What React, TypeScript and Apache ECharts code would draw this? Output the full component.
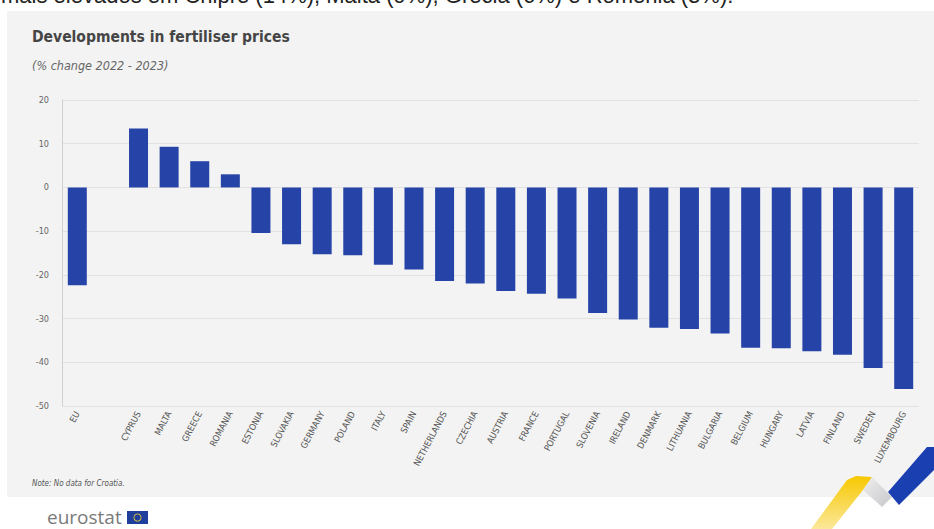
import React, { useEffect, useRef } from "react";
import * as echarts from "echarts";

const countries = [
  "EU", "", "CYPRUS", "MALTA", "GREECE", "ROMANIA", "ESTONIA", "SLOVAKIA", "GERMANY",
  "POLAND", "ITALY", "SPAIN", "NETHERLANDS", "CZECHIA", "AUSTRIA", "FRANCE", "PORTUGAL",
  "SLOVENIA", "IRELAND", "DENMARK", "LITHUANIA", "BULGARIA", "BELGIUM", "HUNGARY",
  "LATVIA", "FINLAND", "SWEDEN", "LUXEMBOURG",
];

const priceChange: (number | null)[] = [
  -22.4, null, 13.5, 9.3, 6.0, 3.0, -10.4, -13.0, -15.3,
  -15.5, -17.7, -18.8, -21.4, -22.0, -23.7, -24.3, -25.4,
  -28.7, -30.2, -32.1, -32.4, -33.4, -36.7, -36.8,
  -37.5, -38.3, -41.3, -46.1,
];

const yMin = -50;
const yMax = 20;
const yStep = 10;

const titleText = "Developments in fertiliser prices";
const subtitleText = "(% change 2022 - 2023)";
const noteText = "Note: No data for Croatia.";
const topLineText = "mais elevados em Chipre (14%), Malta (9%), Grécia (6%) e Roménia (3%).";
const logoText = "eurostat";

const NARROW = "'Liberation Sans Narrow', 'DejaVu Sans Condensed', 'Roboto Condensed', sans-serif";

export default function App() {
  const ref = useRef<HTMLDivElement>(null);

  useEffect(() => {
    document.body.style.margin = "0";
    if (!ref.current) return;
    const chart = echarts.init(ref.current, null, { renderer: "svg" });

    const option: any = {
      animation: false,
      backgroundColor: "#ffffff",
      title: {
        text: titleText,
        subtext: subtitleText,
        left: 32,
        top: 29,
        padding: 0,
        itemGap: 14,
        textStyle: {
          fontFamily: NARROW,
          fontWeight: "bold",
          fontSize: 15.5,
          color: "#454545",
        },
        subtextStyle: {
          fontFamily: NARROW,
          fontStyle: "italic",
          fontSize: 12.5,
          color: "#666666",
        },
      },
      graphic: [
        {
          type: "rect",
          z: -10,
          silent: true,
          shape: { x: 7, y: 11, width: 927, height: 486 },
          style: { fill: "#f3f3f3" },
        },
        {
          type: "text",
          x: 1,
          y: -5,
          silent: true,
          style: {
            text: topLineText,
            font: "22px 'Liberation Sans', Arial, sans-serif",
            fill: "#222222",
            verticalAlign: "middle",
            align: "left",
          },
        },
        {
          type: "text",
          x: 32,
          y: 483,
          silent: true,
          style: {
            text: noteText,
            font: "italic 8px " + NARROW,
            fill: "#555555",
            verticalAlign: "middle",
          },
        },
        {
          type: "text",
          x: 47,
          y: 517,
          silent: true,
          style: {
            text: logoText,
            font: "19px 'Open Sans', 'DejaVu Sans', sans-serif",
            fill: "#7a7a7a",
            verticalAlign: "middle",
          },
        },
        {
          type: "rect",
          silent: true,
          shape: { x: 127, y: 511, width: 21, height: 13 },
          style: { fill: "#1f3f9c" },
        },
        {
          type: "ring",
          silent: true,
          shape: { cx: 137.5, cy: 517.5, r: 4, r0: 3.2 },
          style: { fill: "#e8c832" },
        },
        {
          type: "polygon",
          silent: true,
          shape: { points: [[811, 529], [847, 480], [856, 476], [872, 477], [863, 490], [832, 529]] },
          style: {
            fill: new echarts.graphic.LinearGradient(0, 1, 0, 0, [
              { offset: 0, color: "#fbe89a" },
              { offset: 1, color: "#f7c800" },
            ]),
          },
        },
        {
          type: "polygon",
          silent: true,
          shape: { points: [[872, 477], [892, 497], [882, 507], [863, 490]] },
          style: {
            fill: new echarts.graphic.LinearGradient(0, 0, 1, 1, [
              { offset: 0, color: "#eeeeee" },
              { offset: 1, color: "#c8c8cc" },
            ]),
          },
        },
        {
          type: "polygon",
          silent: true,
          shape: { points: [[888, 492], [927, 447], [934, 447], [934, 470], [899, 505]] },
          style: { fill: "#1a3fb0" },
        },
      ],
      grid: {
        left: 62,
        right: 15,
        top: 100,
        bottom: 123,
      },
      xAxis: {
        type: "category",
        data: countries,
        axisLine: { show: false },
        axisTick: { show: false },
        splitLine: { show: false },
        axisLabel: {
          interval: 0,
          rotate: 62,
          margin: 6,
          fontFamily: NARROW,
          fontSize: 9,
          color: "#555555",
        },
      },
      yAxis: {
        type: "value",
        min: yMin,
        max: yMax,
        interval: yStep,
        axisLine: { show: true, lineStyle: { color: "#d0d0d0", width: 1 } },
        axisTick: { show: false },
        splitLine: { show: true, lineStyle: { color: "#e2e2e2", width: 1 } },
        axisLabel: {
          margin: 13,
          fontFamily: NARROW,
          fontSize: 9,
          color: "#666666",
        },
      },
      series: [
        {
          type: "bar",
          data: priceChange,
          barWidth: 19,
          itemStyle: { color: "#2644a7" },
          emphasis: { disabled: true },
        },
      ],
    };

    chart.setOption(option);
    return () => {
      chart.dispose();
    };
  }, []);

  return (
    <div
      ref={ref}
      style={{ position: "fixed", left: 0, top: 0, width: 934, height: 529 }}
    />
  );
}
